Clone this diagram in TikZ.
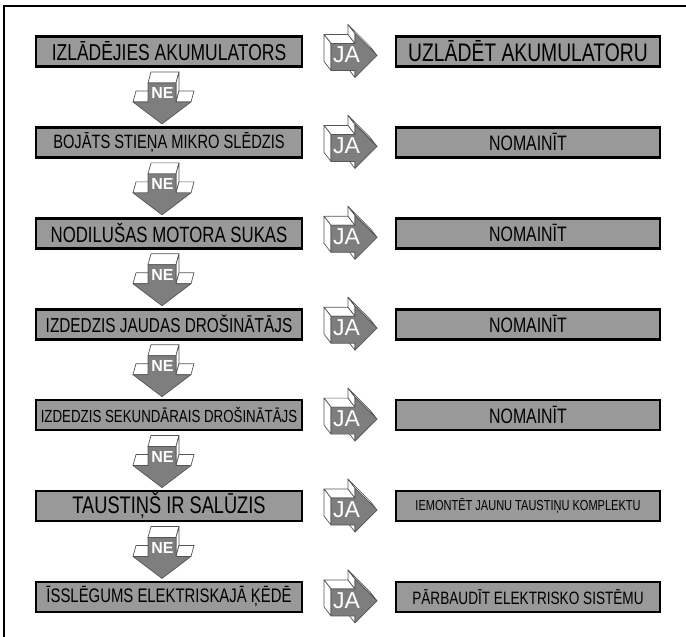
\documentclass[tikz,border=0pt]{standalone}
\usepackage{fontspec}
\setmainfont{Liberation Sans}[FakeStretch=0.76]
\newfontfamily\plainsans{Liberation Sans}
\usetikzlibrary{calc}
\definecolor{boxgray}{HTML}{999999}
\definecolor{arrgray}{HTML}{7E7E7E}
\definecolor{edgegray}{HTML}{555555}
\tikzset{
  box/.style={draw=black, line width=2.6pt, fill=boxgray, minimum height=30pt, inner sep=0pt, text=black},
  lbox/.style={box, minimum width=266pt},
  rbox/.style={box, minimum width=264pt},
  face/.style={fill=white, draw=edgegray, line width=0.7pt, line join=round},
  front/.style={fill=arrgray, draw=edgegray, line width=0.7pt, line join=round},
  frameline/.style={line width=2.4pt},
  lbl/.style={text=white, inner sep=0pt},
}
\newcommand\fsz[1]{\fontsize{#1}{#1}\selectfont}
\newcommand\jaarrowshape[2]{%
  \begin{scope}[shift={(#1)}]
    \filldraw[face] (-18,-8) -- (6,-8) -- (-1,-17) -- (-25,-17) -- cycle;
    \filldraw[face] (-18,-8) -- (-18,19) -- (-25,10) -- (-25,-17) -- cycle;
    \filldraw[face] (6,-8) -- (6,-18) -- (-1,-27) -- (-1,-17) -- cycle;
    \filldraw[face] (6,-18) -- (28,4) -- (21,-5) -- (-1,-27) -- cycle;
    \filldraw[face] (6,19) -- (6,26) -- (-1,17) -- (-1,10) -- cycle;
    \filldraw[front] (-18,-8) -- (6,-8) -- (6,-18) -- (28,4) -- (6,26) -- (6,19) -- (-18,19) -- cycle;
    \node[lbl, font=\plainsans\fsz{23}] (#2) at (-2.5,3.5) {JA};
  \end{scope}}
\newcommand\nearrowshape[2]{%
  \begin{scope}[shift={(#1)}]
    \filldraw[face] (-14,-14) -- (14,-14) -- (17,-25) -- (-11,-25) -- cycle;
    \filldraw[face] (14,-14) -- (14,5) -- (17,-6) -- (17,-25) -- cycle;
    \filldraw[face] (-29,5) -- (-14,5) -- (-11,-6) -- (-26,-6) -- cycle;
    \filldraw[face] (14,5) -- (29,5) -- (32,-6) -- (17,-6) -- cycle;
    \filldraw[front] (-14,-14) -- (14,-14) -- (14,5) -- (29,5) -- (0,27) -- (-29,5) -- (-14,5) -- cycle;
    \node[lbl, font=\plainsans\bfseries\fsz{16}] (#2) at (0.5,-3.5) {NE};
  \end{scope}}
\begin{document}
\begin{tikzpicture}[x=1pt,y=-1pt]
\useasboundingbox (0,0) rectangle (686,637);
\draw[frameline] (4,640) -- (4,6) -- (690,6);
% left column
\node[lbox, font=\fsz{23.0}] (L1) at (169,51.5)  {IZLĀDĒJIES AKUMULATORS};
\node[lbox, font=\fsz{19.3}] (L2) at (169,142.4) {BOJĀTS STIEŅA MIKRO SLĒDZIS};
\node[lbox, font=\fsz{22.1}] (L3) at (169,233.3) {NODILUŠAS MOTORA SUKAS};
\node[lbox, font=\fsz{20.2}] (L4) at (169,324.2) {IZDEDZIS JAUDAS DROŠINĀTĀJS};
\node[lbox, font=\fsz{17.5}] (L5) at (169,415.1) {IZDEDZIS SEKUNDĀRAIS DROŠINĀTĀJS};
\node[lbox, font=\fsz{24.0}] (L6) at (169,506.0) {TAUSTIŅŠ IR SALŪZIS};
\node[lbox, font=\fsz{19.6}] (L7) at (169,596.9) {ĪSSLĒGUMS ELEKTRISKAJĀ ĶĒDĒ};
% right column
\node[rbox, font=\fsz{25.4}] (R1) at (528,51.5)  {UZLĀDĒT AKUMULATORU};
\node[rbox, font=\fsz{20.9}] (R2) at (528,142.4) {NOMAINĪT};
\node[rbox, font=\fsz{20.9}] (R3) at (528,233.3) {NOMAINĪT};
\node[rbox, font=\fsz{20.9}] (R4) at (528,324.2) {NOMAINĪT};
\node[rbox, font=\fsz{20.9}] (R5) at (528,415.1) {NOMAINĪT};
\node[rbox, font=\fsz{14.5}] (R6) at (528,506.0) {IEMONTĒT JAUNU TAUSTIŅU KOMPLEKTU};
\node[rbox, font=\fsz{17.9}] (R7) at (528,596.9) {PĀRBAUDĪT ELEKTRISKO SISTĒMU};
% JA arrows
\foreach \i in {1,...,7} {
  \coordinate (ja\i) at ($(L\i.east)!0.5!(R\i.west)$);
  \jaarrowshape{ja\i}{jalbl\i}
}
% NE arrows
\foreach \i/\j in {1/2,2/3,3/4,4/5,5/6,6/7} {
  \coordinate (ne\i) at ($(L\i.south)!0.5!(L\j.north) + (-7,0)$);
  \nearrowshape{ne\i}{nelbl\i}
}
\end{tikzpicture}
\end{document}
